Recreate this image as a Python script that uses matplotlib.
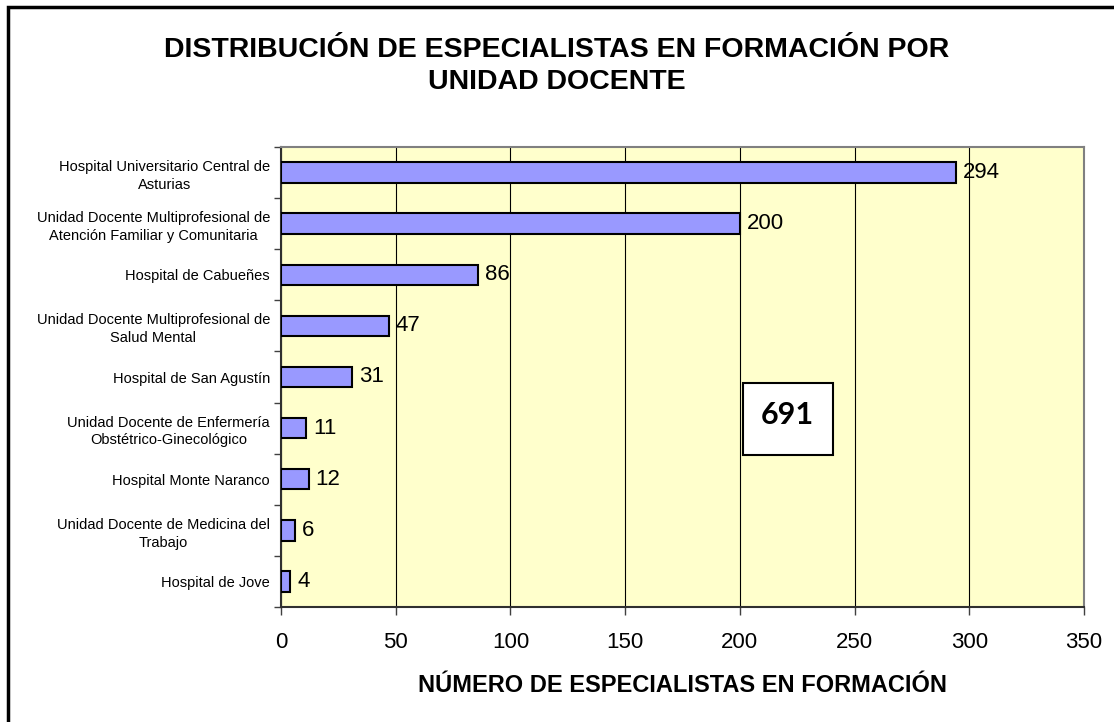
import matplotlib
matplotlib.use("Agg")
import matplotlib.pyplot as plt
import matplotlib.patches as patches
import numpy as np

plt.rcParams['font.family'] = ['Liberation Sans', 'DejaVu Sans']

# datos
unidades = ["Hospital Universitario Central de\nAsturias",
            "Unidad Docente Multiprofesional de\nAtención Familiar y Comunitaria",
            "Hospital de Cabueñes",
            "Unidad Docente Multiprofesional de\nSalud Mental",
            "Hospital de San Agustín",
            "Unidad Docente de Enfermería\nObstétrico-Ginecológico",
            "Hospital Monte Naranco",
            "Unidad Docente de Medicina del\nTrabajo",
            "Hospital de Jove"]
especialistas = [294, 200, 86, 47, 31, 11, 12, 6, 4]
total = "691"
xticks = [0, 50, 100, 150, 200, 250, 300, 350]

fig = plt.figure(figsize=(11.14, 7.22), dpi=100)
ax = fig.add_axes([281/1114, 1-607/722, 803/1114, 460/722])
ax.set_facecolor('#FFFFCC')

y = np.arange(len(unidades))
ax.barh(y, especialistas, height=0.4, color='#9999FF', edgecolor='black',
        linewidth=1.5, zorder=3)
for yi, v in zip(y, especialistas):
    ax.annotate(str(v), (v, yi), xytext=(5, 0), textcoords='offset points',
                ha='left', va='center', fontsize=16, zorder=4)

ax.set_xlim(0, 350)
ax.set_ylim(len(unidades)-0.5, -0.5)
ax.set_xticks(xticks)
ax.set_xticklabels([str(t) for t in xticks], fontsize=16)
ax.tick_params(axis='x', length=6, width=1, pad=12, color='#404040')
ax.set_yticks(y)
ax.set_yticklabels(unidades, fontsize=10.5, multialignment='center', linespacing=1.35)
ax.tick_params(axis='y', length=0, pad=8)
ax.set_yticks(np.arange(-0.5, len(unidades)), minor=True)
ax.tick_params(axis='y', which='minor', length=5, width=1, color='#404040')
ax.grid(axis='x', color='black', linewidth=0.8, zorder=1)
ax.set_axisbelow(True)

for s in ['left', 'bottom']:
    ax.spines[s].set_color('#303030')
    ax.spines[s].set_linewidth(1.5)
for s in ['top', 'right']:
    ax.spines[s].set_color('#808080')
    ax.spines[s].set_linewidth(1.5)

ax.set_xlabel('NÚMERO DE ESPECIALISTAS EN FORMACIÓN', fontsize=17,
              fontweight='bold', labelpad=15)

fig.text(0.5, 1-66/722, 'DISTRIBUCIÓN DE ESPECIALISTAS EN FORMACIÓN POR\nUNIDAD DOCENTE',
         ha='center', va='center', fontsize=20.5, fontweight='bold', linespacing=1.3)

# caja del total
caja = patches.Rectangle((0.575, 0.330), 0.112, 0.157, transform=ax.transAxes,
                         facecolor='white', edgecolor='black', linewidth=1.5, zorder=5)
ax.add_patch(caja)
ax.text(0.631, 0.418, total, transform=ax.transAxes, ha='center', va='center',
        fontsize=22, fontweight='bold', family=['Lato', 'DejaVu Sans'], zorder=6)

# borde de la figura
borde = patches.Rectangle((8/1114, -0.05), 1.1, 1-7/722+0.05, transform=fig.transFigure,
                          fill=False, edgecolor='black', linewidth=2.5, clip_on=False)
fig.patches.append(borde)

fig.savefig('out.png', dpi=100)
